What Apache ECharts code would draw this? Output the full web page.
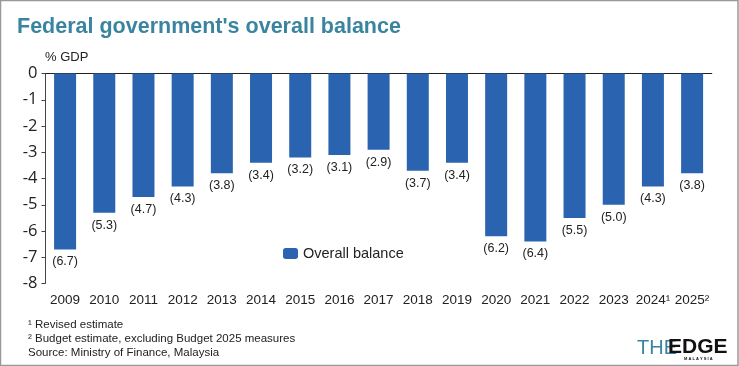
<!DOCTYPE html>
<html><head><meta charset="utf-8">
<script src="https://cdn.jsdelivr.net/npm/echarts@6/dist/echarts.min.js"></script>
<style>html,body{margin:0;padding:0;background:#fff}#c{width:739px;height:366px}</style>
</head><body><div id="c"></div>
<script>
const years = ['2009','2010','2011','2012','2013','2014','2015','2016','2017','2018','2019','2020','2021','2022','2023','2024¹','2025²'];
const balance = [-6.7,-5.3,-4.7,-4.3,-3.8,-3.4,-3.2,-3.1,-2.9,-3.7,-3.4,-6.2,-6.4,-5.5,-5.0,-4.3,-3.8];
const yTicks = [0,-1,-2,-3,-4,-5,-6,-7,-8];
const footnotes = ['¹ Revised estimate','² Budget estimate, excluding Budget 2025 measures','Source: Ministry of Finance, Malaysia'];

const chart = echarts.init(document.getElementById('c'));
const F = '"Liberation Sans", Arial, sans-serif';
chart.setOption({
  animation:false,
  grid:{left:45.5,right:27.3,top:73.5,bottom:82.5},
  legend:{data:['Overall balance'],left:283,top:246,padding:0,itemWidth:15,itemHeight:11,
    textStyle:{fontFamily:F,fontSize:14.5,color:'#222'}},
  xAxis:[{type:'category',data:years,position:'bottom',axisLine:{show:false},axisTick:{show:false},
      axisLabel:{interval:0,fontFamily:F,fontSize:13.5,color:'#222',margin:10}},
    {type:'category',data:years,position:'top',axisLine:{onZero:false,lineStyle:{color:'#222',width:1.2}},
      axisTick:{inside:true,length:5,lineStyle:{color:'#444'}},axisLabel:{show:false}}],
  yAxis:{type:'value',min:-8,max:0,interval:1,
    axisLine:{show:true,lineStyle:{color:'#444'}},axisTick:{show:true,length:4,lineStyle:{color:'#444'}},
    splitLine:{show:false},
    axisLabel:{fontFamily:'"Open Sans", sans-serif',fontSize:16.5,color:'#222',margin:8,
      formatter:v=>String(yTicks[Math.round(-v)])}},
  series:[{name:'Overall balance',type:'bar',data:balance,barWidth:22,
    itemStyle:{color:'#2a64b0'},
    label:{show:true,position:'bottom',distance:6,fontFamily:F,fontSize:12.5,color:'#222',
      formatter:p=>'('+Math.abs(p.value).toFixed(1)+')'}}],
  graphic:[
    {type:'rect',shape:{x:0.5,y:0.5,width:737.5,height:365},style:{fill:'none',stroke:'#999',lineWidth:1.5},silent:true},
    {type:'text',left:17,top:16,style:{text:"Federal government's overall balance",font:'bold 21.5px '+F,fill:'#3b84a0'}},
    {type:'text',left:45,top:51,style:{text:'% GDP',font:'13px '+F,fill:'#222'}},
    {type:'text',left:28,top:318,style:{text:footnotes.join('\n'),font:'11.5px '+F,fill:'#222',lineHeight:14}},
    {type:'text',left:637,top:338,style:{text:'THE',font:'20px '+F,fill:'#3b84a0'}},
    {type:'text',left:668,top:337,style:{text:'EDGE',font:'bold 21px '+F,fill:'#111'}},
    {type:'text',left:684,top:357,style:{text:'M A L A Y S I A',font:'bold 4px '+F,fill:'#111'}}
  ]
});
</script></body></html>
